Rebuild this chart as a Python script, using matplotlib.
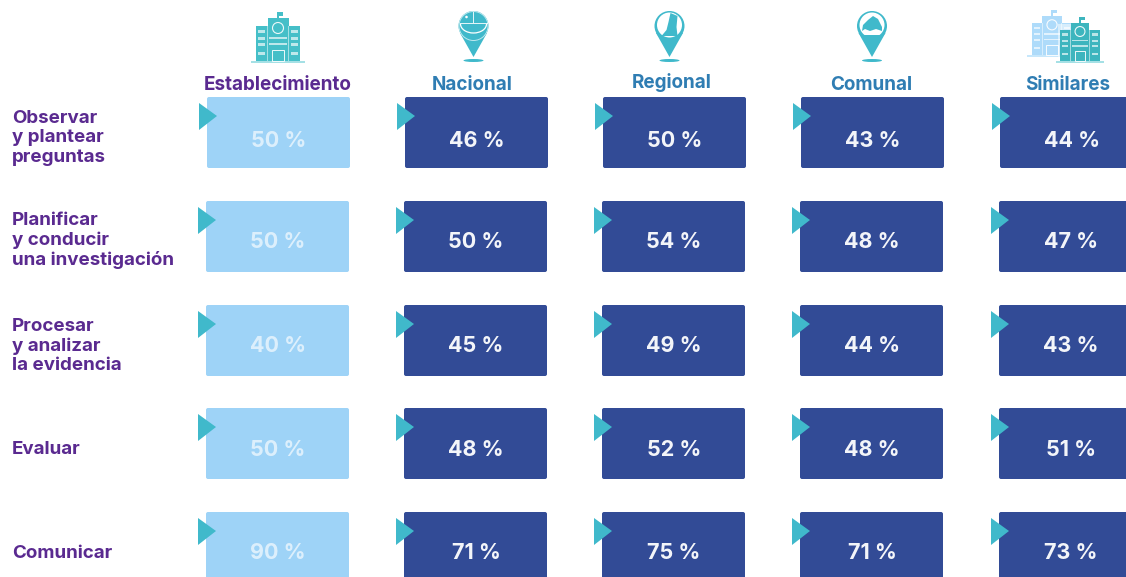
import matplotlib
matplotlib.use('Agg')
import matplotlib.pyplot as plt
from matplotlib.patches import FancyBboxPatch, Polygon, Rectangle, Circle, Ellipse, Arc

# Datos
columnas = ['Establecimiento', 'Nacional', 'Regional', 'Comunal', 'Similares']
habilidades = ['Observar\ny plantear\npreguntas',
               'Planificar\ny conducir\nuna investigación',
               'Procesar\ny analizar\nla evidencia',
               'Evaluar',
               'Comunicar']
establecimiento = [50, 50, 40, 50, 90]
nacional = [46, 50, 45, 48, 71]
regional = [50, 54, 49, 52, 75]
comunal = [43, 48, 44, 48, 71]
similares = [44, 47, 43, 51, 73]
series = [establecimiento, nacional, regional, comunal, similares]

OSCURO = '#324B96'
CLARO = '#9ED3F7'
TEAL = '#40B9CB'
MORADO = '#5A2A90'
AZUL = '#2F7DB3'
FUENTE = 'Inter'

fig = plt.figure(figsize=(11.26, 5.77), dpi=100)
ax = fig.add_axes([0, 0, 1, 1])
ax.set_xlim(0, 1126)
ax.set_ylim(577, 0)
ax.axis('off')

col_x = [206, 404, 602, 800, 999]
fila_y = [97, 201, 305, 408, 512]
ancho, alto = 143, 71
header_y = [85, 85, 83, 85, 85]
header_x = [278, 472, 672, 871, 1068]
etiqueta_y = [138, 240.5, 346, 449, 553.5]
valor_y = [141, 242, 346.5, 449.5, 553]


def escuela(cx, base, esc, color, suelo):
    ax.add_patch(Rectangle((cx - 27*esc, base - 2*esc), 54*esc, 2*esc, color=suelo, lw=0))
    ax.add_patch(Rectangle((cx - 22*esc, base - 37*esc), 44*esc, 35*esc, color=color, lw=0))
    ax.add_patch(Rectangle((cx - 10.5*esc, base - 45*esc), 21*esc, 10*esc, color=color, lw=0))
    ax.add_patch(Rectangle((cx - 0.6*esc, base - 51*esc), 1.2*esc, 7*esc, color=color, lw=0))
    ax.add_patch(Rectangle((cx - 0.6*esc, base - 51*esc), 6*esc, 3.5*esc, color=color, lw=0))
    ax.add_patch(Circle((cx, base - 35*esc), 5.5*esc, fc=color, ec='white', lw=0.8, alpha=0.9))
    ax.add_patch(Rectangle((cx - 11*esc, base - 37*esc), 0.9*esc, 35*esc, color='white', alpha=0.5, lw=0))
    ax.add_patch(Rectangle((cx + 10*esc, base - 37*esc), 0.9*esc, 35*esc, color='white', alpha=0.5, lw=0))
    for fy in (33, 26, 20, 11):
        for fx, w in ((-20, 7), (13, 7)):
            ax.add_patch(Rectangle((cx + fx*esc, base - fy*esc), w*esc, 2.5*esc, color='white', alpha=0.65, lw=0))
    for fy in (26, 20):
        ax.add_patch(Rectangle((cx - 9*esc, base - fy*esc), 18*esc, 2*esc, color='white', alpha=0.65, lw=0))
    ax.add_patch(Rectangle((cx - 6*esc, base - 13*esc), 12*esc, 11*esc, fc=color, ec='white', lw=0.7, alpha=0.9))


def pin(cx, estilo):
    ax.add_patch(Polygon([[cx - 13.5, 33], [cx + 13.5, 33], [cx, 57]], color=TEAL, lw=0))
    ax.add_patch(Ellipse((cx, 60.5), 20, 3, color=TEAL, lw=0))
    ax.add_patch(Circle((cx, 26), 15, fc=TEAL, ec='none'))
    if estilo == 'nacional':
        ax.add_patch(Circle((cx, 26), 14.5, fc='none', ec='#BDE8EE', lw=0.7))
        ax.add_patch(Rectangle((cx - 0.5, 12), 1, 11, color='white', alpha=0.85, lw=0))
        ax.add_patch(Rectangle((cx - 14, 22.5), 28, 1, color='white', alpha=0.85, lw=0))
        ax.add_patch(Arc((cx, 24), 26, 18, theta1=0, theta2=180, ec='white', lw=0.9))
        ax.add_patch(Circle((cx - 7, 17), 1.3, color='white', lw=0))
    elif estilo == 'regional':
        ax.add_patch(Circle((cx, 25), 12.5, color='white', lw=0))
        ax.add_patch(Polygon([[cx + 1, 13], [cx + 8, 16], [cx + 7, 27], [cx + 8, 36], [cx - 8, 36], [cx - 3, 30], [cx - 1, 22]], color=TEAL, lw=0))
    else:
        ax.add_patch(Circle((cx, 25), 12.5, color='white', lw=0))
        ax.add_patch(Polygon([[cx - 10, 31], [cx - 9, 25], [cx - 4, 20], [cx + 1, 16], [cx + 6, 19], [cx + 10, 27], [cx + 10, 31], [cx + 4, 29], [cx - 2, 31], [cx - 7, 29]], color=TEAL, lw=0))
        ax.add_patch(Polygon([[cx - 10, 35], [cx + 10, 35], [cx + 7, 38], [cx - 7, 38]], color=TEAL, lw=0))


# Iconos
escuela(278, 63, 1.0, '#45BFC8', '#A5E0E5')
pin(473.5, 'nacional')
pin(669.5, 'regional')
pin(872, 'comunal')
escuela(1052, 57, 0.92, '#AEDBFA', '#C7E7FB')
ax.add_patch(Rectangle((1058, 24), 44, 40, color='white', alpha=0.5, lw=0))
escuela(1080, 63, 0.9, '#3DB5BE', '#A5E0E5')

for j, nombre in enumerate(columnas):
    color = MORADO if j == 0 else AZUL
    ax.text(header_x[j], header_y[j], nombre, ha='center', va='center', color=color,
            fontsize=13.6, fontweight='bold', family=FUENTE)

for i, texto in enumerate(habilidades):
    ax.text(12, etiqueta_y[i], texto, ha='left', va='center',
            color=MORADO, fontsize=13.5, fontweight='bold', family=FUENTE, linespacing=1.16)
    for j, valores in enumerate(series):
        x = col_x[j] + (1 if i == 0 else 0)
        y = fila_y[i]
        color = CLARO if j == 0 else OSCURO
        ax.add_patch(FancyBboxPatch((x + 2, y + 2), ancho - 4, alto - 4,
                                    boxstyle='round,pad=2,rounding_size=2', fc=color, ec='none'))
        ax.add_patch(Polygon([[x - 8, y + 6], [x + 10, y + 19], [x - 8, y + 33]], color=TEAL, lw=0))
        ax.text(x + 72, valor_y[i], f'{valores[i]} %', ha='center', va='center', color='white',
                alpha=0.65 if j == 0 else 0.95, fontsize=15.5, fontweight='bold', family=FUENTE)

fig.savefig('out.png', dpi=100)
